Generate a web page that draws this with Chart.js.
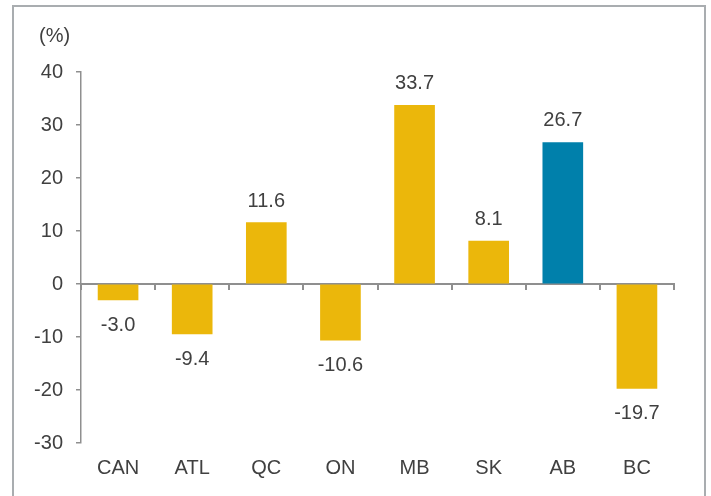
<!DOCTYPE html>
<html>
<head>
<meta charset="utf-8">
<script src="https://cdn.jsdelivr.net/npm/chart.js@4.4.0/dist/chart.umd.min.js"></script>
<style>
  html, body { margin: 0; padding: 0; background: #fff; }
  #wrap { position: relative; width: 711px; height: 496px; overflow: hidden; }
  #frame {
    position: absolute; left: 12px; top: 5px; width: 690px; height: 600px;
    border: 2px solid #a9adb0; border-bottom: none;
  }
  canvas { position: absolute; left: 0; top: 0; }
</style>
</head>
<body>
<div id="wrap">
  <div id="frame"></div>
  <canvas id="chart" width="711" height="496"></canvas>
</div>
<script>
// Données
const regions = ["CAN", "ATL", "QC", "ON", "MB", "SK", "AB", "BC"];
const growth = [-3.0, -9.4, 11.6, -10.6, 33.7, 8.1, 26.7, -19.7];
const barColors = ["#ebb70b", "#ebb70b", "#ebb70b", "#ebb70b", "#ebb70b", "#ebb70b", "#0080ab", "#ebb70b"];
const yTicks = [-30, -20, -10, 0, 10, 20, 30, 40];

const textColor = "#404040";
const axisColor = "#8f8f8f";
const fontFamily = "'Liberation Sans', Arial, sans-serif";
const fontSize = 20;

// valeurs au-dessus / en dessous des barres
const valueLabels = {
    id: "valueLabels",
    afterDatasetsDraw(chart) {
        const ctx = chart.ctx;
        const meta = chart.getDatasetMeta(0);
        ctx.save();
        ctx.font = fontSize + "px " + fontFamily;
        ctx.fillStyle = textColor;
        ctx.textAlign = "center";
        ctx.textBaseline = "alphabetic";
        meta.data.forEach((bar, i) => {
            const v = growth[i];
            const txt = v.toFixed(1);
            if (v >= 0) {
                ctx.fillText(txt, bar.x, bar.y - 16);
            } else {
                ctx.fillText(txt, bar.x, bar.y + 31);
            }
        });
        // unité
        ctx.textAlign = "left";
        ctx.fillText("(%)", 39, 42);
        ctx.restore();
    }
};

new Chart(document.getElementById("chart"), {
    type: "bar",
    data: {
        labels: regions,
        datasets: [{
            data: growth,
            backgroundColor: barColors,
            borderWidth: 0,
            barThickness: 40,
            xAxisID: "x"
        }]
    },
    options: {
        responsive: false,
        animation: false,
        layout: { padding: { top: 72, right: 37, bottom: 13, left: 0 } },
        plugins: { legend: { display: false }, tooltip: { enabled: false } },
        scales: {
            x: {
                type: "category",
                position: "bottom",
                grid: { display: false },
                border: { display: false },
                ticks: { color: textColor, font: { family: fontFamily, size: fontSize }, padding: 5 },
                afterFit(scale) { scale.height = 40; }
            },
            zero: {
                type: "category",
                axis: "x",
                labels: regions,
                position: { y: 0 },
                offset: true,
                grid: { display: true, offset: true, drawOnChartArea: false, drawTicks: true, tickLength: 5, color: axisColor, lineWidth: 2 },
                border: { display: true, color: axisColor, width: 2 },
                ticks: { display: false }
            },
            y: {
                min: -30,
                max: 40,
                afterBuildTicks(scale) { scale.ticks = yTicks.map(v => ({ value: v })); },
                grid: { drawOnChartArea: false, drawTicks: true, tickLength: 5, color: axisColor, lineWidth: 1.5 },
                border: { display: true, color: axisColor, width: 1.5 },
                ticks: { color: textColor, font: { family: fontFamily, size: fontSize }, padding: 13 },
                afterFit(scale) { scale.width = 81; }
            }
        }
    },
    plugins: [valueLabels]
});
</script>
</body>
</html>
